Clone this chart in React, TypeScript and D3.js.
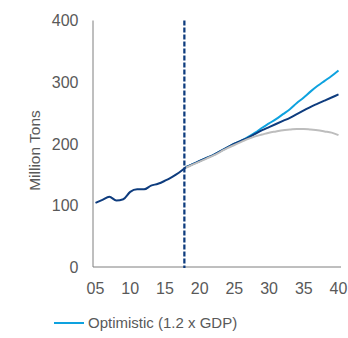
import React from "react";
import * as d3 from "d3";

const histYears = [2005, 2006, 2007, 2008, 2009, 2010, 2011, 2012, 2013, 2014, 2015, 2016, 2017, 2018];
const histValues = [104, 109, 114, 108, 110, 122, 126, 126, 132, 135, 140, 146, 153, 162];

const projYears = [2018, 2019, 2020, 2021, 2022, 2023, 2024, 2025, 2026, 2027, 2028, 2029, 2030, 2031, 2032, 2033, 2034, 2035, 2036, 2037, 2038, 2039, 2040];
const optimistic = [162, 167, 172, 177, 182, 188, 194, 200, 205, 211, 218, 226, 233, 240, 248, 256, 266, 275, 285, 294, 302, 310, 319];
const baseCase = [162, 167, 172, 177, 182, 188, 194, 200, 205, 210, 216, 222, 227, 232, 237, 242, 248, 254, 260, 265, 270, 275, 280];
const pessimistic = [161, 166, 171, 176, 181, 187, 193, 198, 203, 208, 212, 215, 218, 220, 222, 223, 224, 224, 223, 222, 220, 218, 214];

const xTicks = [2005, 2010, 2015, 2020, 2025, 2030, 2035, 2040];
const yTicks = [0, 100, 200, 300, 400];
const dividerYear = 2017.8;
const yLabel = "Million Tons";
const legendLabel = "Optimistic (1.2 x GDP)";

const NAVY = "#0E3C7E";
const LIGHT = "#0EA2DF";
const GRAY = "#BDBDBD";
const TEXT = "#595959";
const FONT = "'Liberation Sans', Arial, sans-serif";

export default function App() {
  const x = d3.scaleLinear().domain([2005, 2040]).range([95.5, 338.5]);
  const y = d3.scaleLinear().domain([0, 400]).range([267, 20.5]);
  const line = d3
    .line<[number, number]>()
    .x((d) => x(d[0]))
    .y((d) => y(d[1]))
    .curve(d3.curveMonotoneX);
  const pts = (ys: number[], vs: number[]) => ys.map((yr, i) => [yr, vs[i]] as [number, number]);

  return (
    <svg
      width={348}
      height={338}
      style={{ position: "absolute", left: 0, top: 0, background: "#fff" }}
      fontFamily={FONT}
    >
      {/* axes */}
      <line x1={93} x2={93} y1={y(400)} y2={267} stroke="#7f7f7f" strokeWidth={1} />
      <line x1={93} x2={341} y1={267} y2={267} stroke="#7f7f7f" strokeWidth={1} />
      {yTicks.map((t) => (
        <text key={t} x={78.5} y={y(t)} dy="0.36em" textAnchor="end" fontSize={16} fill={TEXT}>
          {t}
        </text>
      ))}
      {xTicks.map((t) => (
        <text key={t} x={x(t)} y={288.5} dy="0.36em" textAnchor="middle" fontSize={16} fill={TEXT}>
          {String(t).slice(2)}
        </text>
      ))}
      <text
        transform={`translate(39.5,150.5) rotate(-90)`}
        textAnchor="middle"
        fontSize={15.5}
        fill={TEXT}
      >
        {yLabel}
      </text>
      {/* divider */}
      <line
        x1={x(dividerYear)}
        x2={x(dividerYear)}
        y1={y(400)}
        y2={268}
        stroke={NAVY}
        strokeWidth={2.25}
        strokeDasharray="5 2"
      />
      {/* projections */}
      <path d={line(pts(projYears, optimistic)) || ""} fill="none" stroke={LIGHT} strokeWidth={2} />
      <path d={line(pts(projYears, baseCase)) || ""} fill="none" stroke={NAVY} strokeWidth={2} />
      <path d={line(pts(projYears, pessimistic)) || ""} fill="none" stroke={GRAY} strokeWidth={2} />
      <path d={line(pts(histYears, histValues)) || ""} fill="none" stroke={NAVY} strokeWidth={2} />
      {/* legend */}
      <line x1={54} x2={84} y1={323} y2={323} stroke={LIGHT} strokeWidth={2} />
      <text x={88} y={323} dy="0.36em" fontSize={15} fill={TEXT}>
        {legendLabel}
      </text>
    </svg>
  );
}
